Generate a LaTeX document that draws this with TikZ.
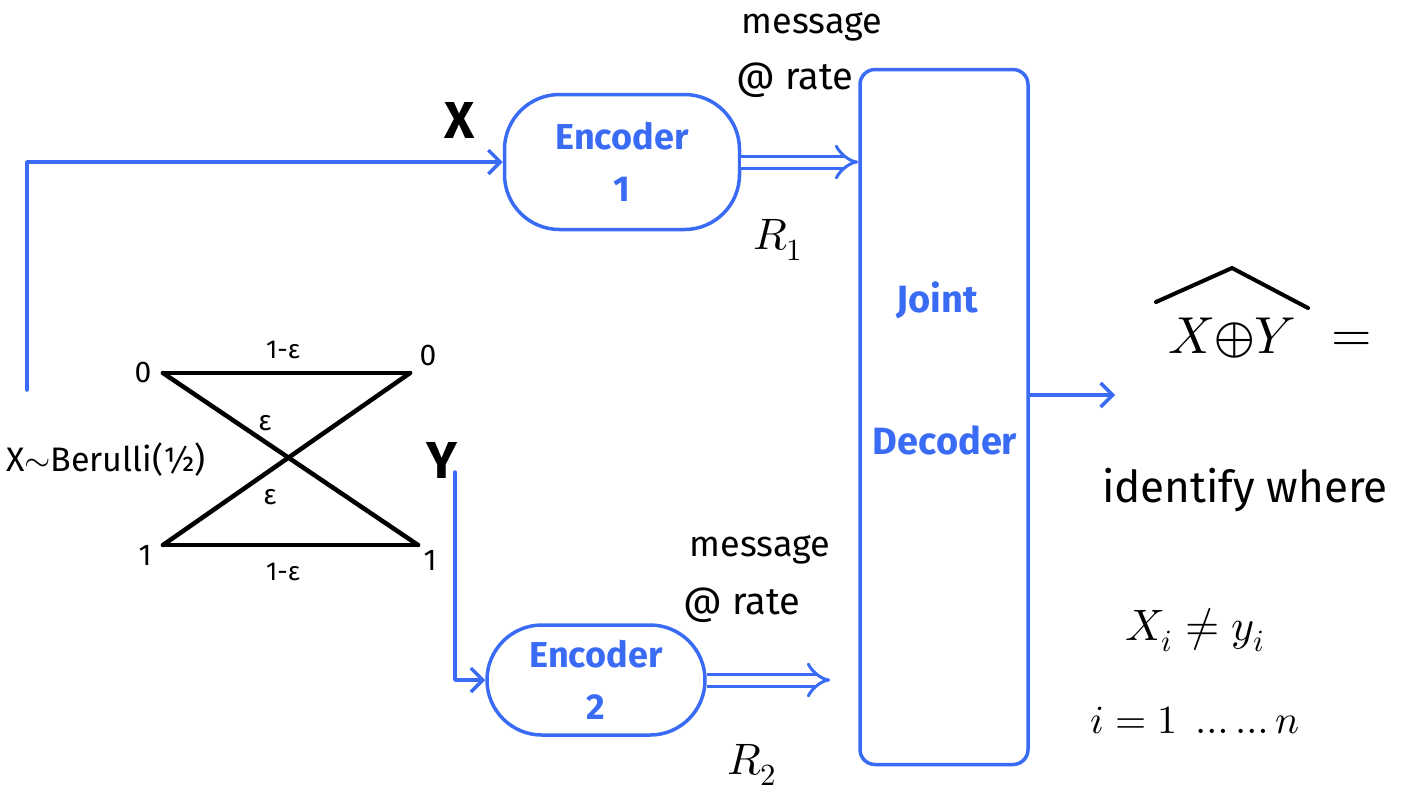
\documentclass[tikz,border=0pt]{standalone}
\usepackage{fontspec}
\usepackage{unicode-math}
\setmainfont{Fira Sans}
\setmathfont{Latin Modern Math}
\usetikzlibrary{arrows.meta}
\definecolor{pen}{HTML}{3A6BF5}
\begin{document}
\begin{tikzpicture}[x=1pt,y=-1pt,
  bl/.style={draw=pen, line width=3.5pt, line cap=round, line join=round},
  barb/.style={-{Straight Barb[length=12pt,width=24pt]}},
  dbl/.style={draw=pen, line width=3pt, double=white, double distance=9pt, -{Implies[length=10pt]}},
  enc/.style={bl, rounded corners=55pt, text=pen, align=center, font=\fontsize{36}{52}\selectfont\bfseries},
  lbl/.style={text=pen, font=\fontsize{38}{40}\selectfont\bfseries},
  hw/.style={text=black, font=\fontsize{#1}{#1}\selectfont},
  hw/.default=32,
  hwb/.style={text=black, font=\fontsize{#1}{#1}\selectfont\bfseries},
  bsc/.style={draw=black, line width=4.5pt, line cap=round},
  hatline/.style={draw=black, line width=4pt, line cap=round, line join=round}
]
\useasboundingbox (0,0) rectangle (1418,807);

% encoders and decoder
\node[enc, minimum width=235pt, minimum height=135pt] (enc1) at (622,162) {Encoder\\1};
\node[enc, minimum width=218pt, minimum height=110pt] (enc2) at (596,680) {Encoder\\2};
\node[bl, rounded corners=15pt, minimum width=168pt, minimum height=695pt] (dec) at (944,417) {};
\node[lbl] (joint) at (937,300) {Joint};
\node[lbl] (decoder) at (945,440) {Decoder};

% labels near encoders
\node[hwb=52] (xlab) at (460,120) {X};
\node[hw=36] (msg1) at (812,27) {message};
\node[hw=38] (rate1) at (795,80) {@ rate};
\node[hw=44] (r1) at (778,240) {$R_1$};
\node[hw=36] (msg2) at (760,550) {message};
\node[hw=38] (rate2) at (742,605) {@ rate};
\node[hw=44] (r2) at (752,765) {$R_2$};

% input connectors
\coordinate (xin) at (27,390);
\coordinate (yin) at (455,472);
\draw[bl, barb] (xin) |- (enc1.west);
\draw[bl, barb] (yin) |- (enc2.west);

% rate arrows
\draw[dbl] (enc1.east) -- (dec.west |- enc1.east);
\draw[dbl] (enc2.east) -- ([xshift=-28pt]dec.west |- enc2.east);

% output
\coordinate (out) at (1115,395);
\draw[bl, barb] (dec.east |- out) -- (out);

% binary symmetric channel
\coordinate (a0) at (163,373);
\coordinate (b0) at (410,373);
\coordinate (a1) at (163,545);
\coordinate (b1) at (418,545);
\draw[bsc] (a0) -- (b0);
\draw[bsc] (a1) -- (b1);
\draw[bsc] (a0) -- (b1);
\draw[bsc] (a1) -- (b0);
\node[hw=30] (l0) at (143,372) {0};
\node[hw=30] (r0) at (428,355) {0};
\node[hw=30] (l1) at (145,555) {1};
\node[hw=30] (rr1) at (430,560) {1};
\node[hw=26] (p00) at (283,350) {1-ε};
\node[hw=26] (p11) at (283,572) {1-ε};
\node[hw=28] (e01) at (265,423) {ε};
\node[hw=28] (e10) at (270,497) {ε};
\node[hw=34] (bern) at (106,460) {X$\sim$Berulli(½)};
\node[hwb=52] (ylab) at (442,460) {Y};

% right side
\node[hw=52, inner sep=0pt] (xory) at (1232,338) {$X{\oplus}Y$};
\draw[hatline] (1156,302) -- (1232,268) -- (1308,308);
\node[hw=52] (eq) at (1352,342) {$=$};
\node[hw=44] (ident) at (1245,490) {identify where};
\node[hw=44] (neq) at (1195,630) {$X_i \neq y_i$};
\node[hw=40] (range) at (1195,720) {$i=1\ \ldots\ldots n$};
\end{tikzpicture}
\end{document}
